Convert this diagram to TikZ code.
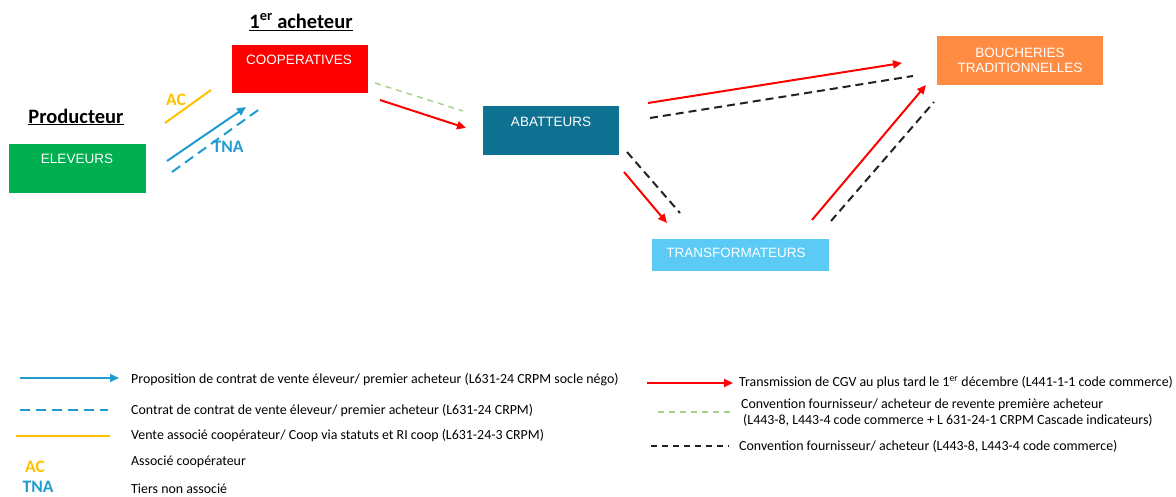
\documentclass[tikz,border=0pt]{standalone}
\usepackage{fontspec}
\setmainfont{Carlito}
\newfontfamily\arialf{Liberation Sans}
\usetikzlibrary{arrows.meta}
\definecolor{cgreen}{HTML}{00B050}
\definecolor{cred}{HTML}{FF0000}
\definecolor{cteal}{HTML}{0E7191}
\definecolor{clight}{HTML}{5BCBF5}
\definecolor{corange}{HTML}{FF8C42}
\definecolor{cyel}{HTML}{FFC000}
\definecolor{cblue}{HTML}{1F9BD0}
\definecolor{cpale}{HTML}{A9D18E}
\definecolor{cdark}{HTML}{222222}
\tikzset{
  box/.style={draw=none, inner sep=0pt, anchor=north west},
  boxtext/.style={text=white, font=\arialf\fontsize{13.5}{15}\selectfont, inner sep=0pt, align=center},
  title/.style={font=\bfseries\fontsize{20.5}{22}\selectfont, inner sep=1pt},
  leg/.style={font=\fontsize{13.9}{16}\selectfont, anchor=west, inner sep=0pt, align=left},
  redarrow/.style={draw=cred, line width=2pt, -{Triangle[length=9pt,width=8pt]}},
  bluearrow/.style={draw=cblue, line width=2pt, -{Triangle[length=9pt,width=8pt]}},
  bluedash/.style={draw=cblue, line width=2pt, dash pattern=on 10pt off 6pt},
  yelline/.style={draw=cyel, line width=2pt},
  blackdash/.style={draw=cdark, line width=2pt, dash pattern=on 8pt off 5pt},
  greendash/.style={draw=cpale, line width=1.5pt, dash pattern=on 6pt off 5pt},
  tag/.style={font=\bfseries\fontsize{17.5}{19}\selectfont, inner sep=0pt}
}
\begin{document}
\begin{tikzpicture}[x=1pt,y=-1pt]
\useasboundingbox (0,0) rectangle (1176,497);
% boxes
\node[box, fill=cgreen, minimum width=137pt, minimum height=49pt] (elev) at (9,144) {};
\node[boxtext] (elevt) at (77,159) {ELEVEURS};
\node[box, fill=cred, minimum width=136pt, minimum height=48pt] (coop) at (232,45) {};
\node[boxtext] (coopt) at (299,60) {COOPERATIVES};
\node[box, fill=cteal, minimum width=136pt, minimum height=49pt] (abat) at (483,106) {};
\node[boxtext] (abatt) at (551,122) {ABATTEURS};
\node[box, fill=clight, minimum width=177pt, minimum height=32pt] (trans) at (652,239) {};
\node[boxtext] (transt) at (736,253) {TRANSFORMATEURS};
\node[box, fill=corange, minimum width=166pt, minimum height=49pt] (bouch) at (937,36) {};
\node[boxtext] (boucht) at (1020,60) {BOUCHERIES\\[0pt]TRADITIONNELLES};
% titles
\node[title] (prod) at (76,117) {\underline{Producteur}};
\node[title] (ach) at (301,22) {\underline{1\textsuperscript{er} acheteur}};
% arrows elev -> coop
\coordinate (y1) at (165,123); \coordinate (y2) at (211,90);
\draw[yelline] (y1) -- (y2);
\node[tag, text=cyel] (ac) at (176,100) {AC};
\coordinate (b1) at (167,161); \coordinate (b2) at (246,107);
\draw[bluearrow] (b1) -- (b2);
\coordinate (d1) at (172,172); \coordinate (d2) at (261,108);
\draw[bluedash] (d1) -- (d2);
\node[tag, text=cblue] (tna) at (228,147) {TNA};
% coop -> abat
\coordinate (g1) at (375,83); \coordinate (g2) at (463,111);
\draw[greendash] (g1) -- (g2);
\coordinate (r1) at (380,100); \coordinate (r2) at (466,128);
\draw[redarrow] (r1) -- (r2);
% abat -> bouch
\coordinate (r3) at (648,103); \coordinate (r4) at (902,63);
\draw[redarrow] (r3) -- (r4);
\coordinate (k1) at (650,118); \coordinate (k2) at (913,76);
\draw[blackdash] (k1) -- (k2);
% abat -> trans
\coordinate (r5) at (624,172); \coordinate (r6) at (667,223);
\draw[redarrow] (r5) -- (r6);
\coordinate (k3) at (627,152); \coordinate (k4) at (680,213);
\draw[blackdash] (k3) -- (k4);
% trans -> bouch
\coordinate (r7) at (812,220); \coordinate (r8) at (926,85);
\draw[redarrow] (r7) -- (r8);
\coordinate (k5) at (831,221); \coordinate (k6) at (934,102);
\draw[blackdash] (k5) -- (k6);
% legend left
\coordinate (l1a) at (20,378); \coordinate (l1b) at (119,378);
\draw[bluearrow] (l1a) -- (l1b);
\node[leg] (t1) at (131,380) {Proposition de contrat de vente éleveur/ premier acheteur (L631-24 CRPM socle négo)};
\coordinate (l2a) at (20,410); \coordinate (l2b) at (108,410);
\draw[bluedash] (l2a) -- (l2b);
\node[leg] (t2) at (131,411) {Contrat de contrat de vente éleveur/ premier acheteur (L631-24 CRPM)};
\coordinate (l3a) at (16,436); \coordinate (l3b) at (110,436);
\draw[yelline] (l3a) -- (l3b);
\node[leg] (t3) at (131,436) {Vente associé coopérateur/ Coop via statuts et RI coop (L631-24-3 CRPM)};
\node[tag, text=cyel] (lac) at (35,467) {AC};
\node[leg] (t4) at (131,462) {Associé coopérateur};
\node[tag, text=cblue] (ltna) at (38,487) {TNA};
\node[leg] (t5) at (131,489) {Tiers non associé};
% legend right
\coordinate (l4a) at (647,383); \coordinate (l4b) at (733,383);
\draw[redarrow] (l4a) -- (l4b);
\node[leg] (t6) at (739,383) {Transmission de CGV au plus tard le 1\textsuperscript{er} décembre (L441-1-1 code commerce)};
\coordinate (l5a) at (658,412); \coordinate (l5b) at (731,412);
\draw[greendash] (l5a) -- (l5b);
\node[leg] (t7) at (741,413) {Convention fournisseur/ acheteur de revente première acheteur\\\hspace*{2pt}(L443-8, L443-4 code commerce + L 631-24-1 CRPM Cascade indicateurs)};
\coordinate (l6a) at (651,446); \coordinate (l6b) at (729,446);
\draw[blackdash, line width=1.5pt, dash pattern=on 6pt off 5pt] (l6a) -- (l6b);
\node[leg] (t8) at (739,446) {Convention fournisseur/ acheteur (L443-8, L443-4 code commerce)};
\end{tikzpicture}
\end{document}
